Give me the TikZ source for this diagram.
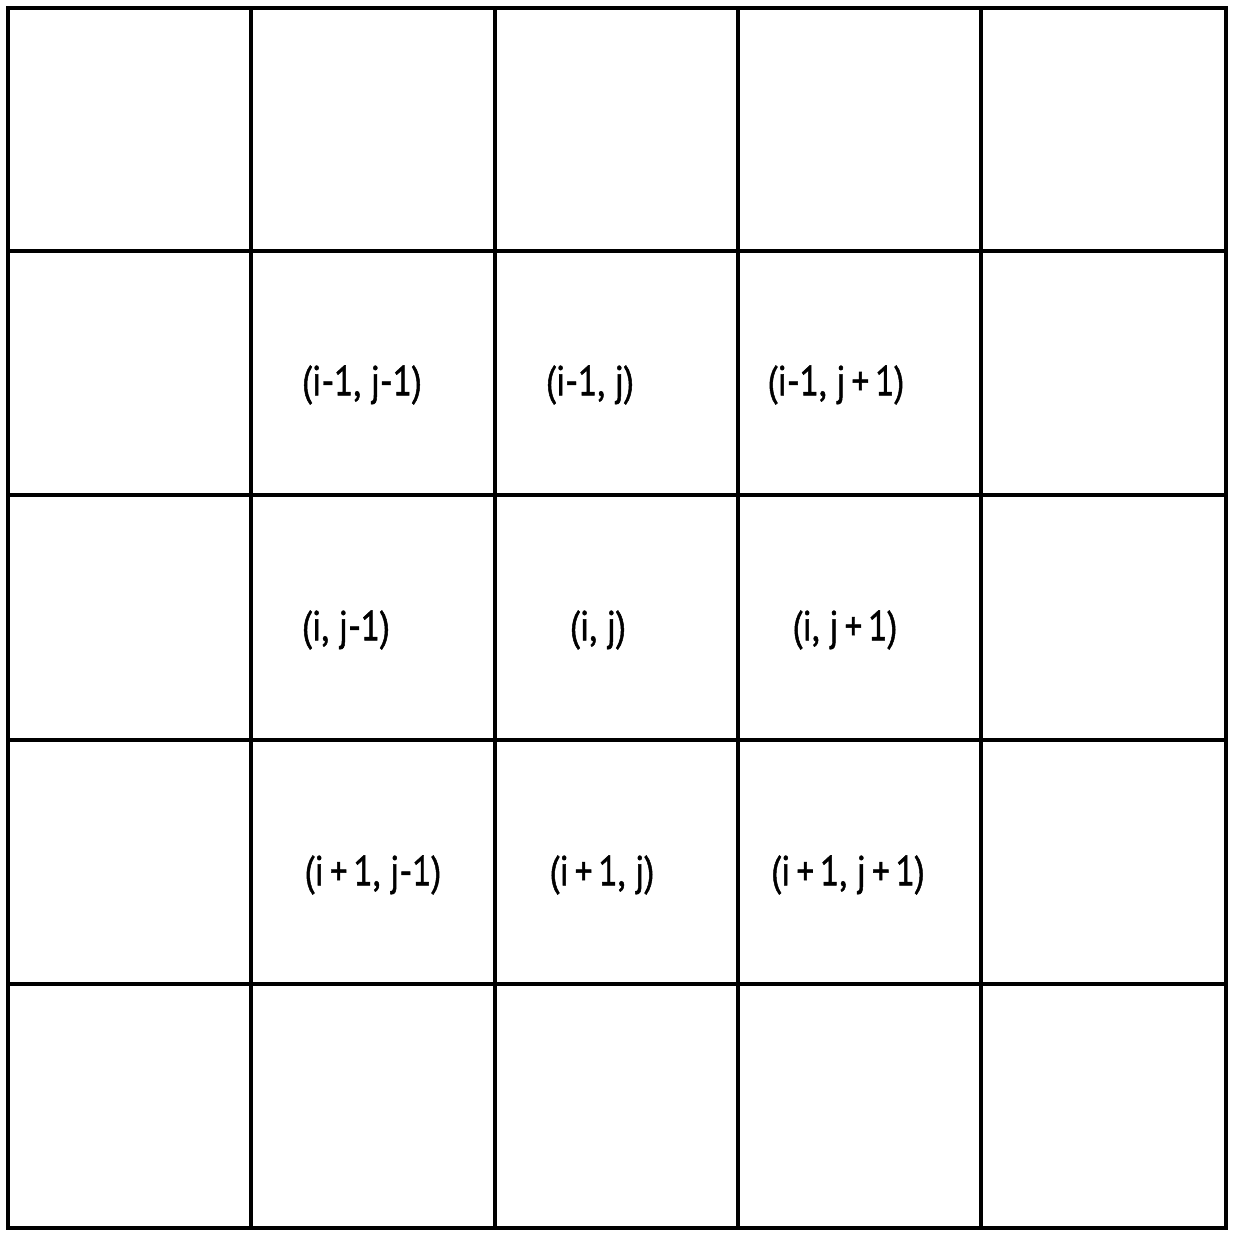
\documentclass[tikz,border=0pt]{standalone}
\usepackage{fontspec}
\setmainfont{PT Sans}
\newfontfamily\lblfont[FakeBold=1.3]{PT Sans}
\begin{document}
\begin{tikzpicture}[x=0.5pt,y=-0.5pt,
  gridline/.style={line width=1.75pt,line cap=rect},
  lbl/.style={font=\lblfont\fontsize{21}{23}\selectfont,inner sep=0pt,anchor=center}]
\fill[white] (0,0) rectangle (1234,1236);
\useasboundingbox (0,0) rectangle (1234,1236);
% vertical lines
\foreach \x in {8,251,495,738,981,1226} \draw[gridline] (\x,8) -- (\x,1228);
% horizontal lines
\foreach \y in {8,251,495,740,984,1228} \draw[gridline] (8,\y) -- (1226,\y);
% labels
\node[lbl] (a11) at (362,385) {\scalebox{0.84}[1]{(i-1, j-1)}};
\node[lbl] (a12) at (590,385) {\scalebox{0.84}[1]{(i-1, j)}};
\node[lbl] (a13) at (836,385) {\scalebox{0.84}[1]{(i-1, j\,+\,1)}};
\node[lbl] (a21) at (346,630) {\scalebox{0.84}[1]{(i, j-1)}};
\node[lbl] (a22) at (598,630) {\scalebox{0.84}[1]{(i, j)}};
\node[lbl] (a23) at (845,630) {\scalebox{0.84}[1]{(i, j\,+\,1)}};
\node[lbl] (a31) at (373,875) {\scalebox{0.84}[1]{(i\,+\,1, j-1)}};
\node[lbl] (a32) at (602,875) {\scalebox{0.84}[1]{(i\,+\,1, j)}};
\node[lbl] (a33) at (848,875) {\scalebox{0.84}[1]{(i\,+\,1, j\,+\,1)}};
\end{tikzpicture}
\end{document}
